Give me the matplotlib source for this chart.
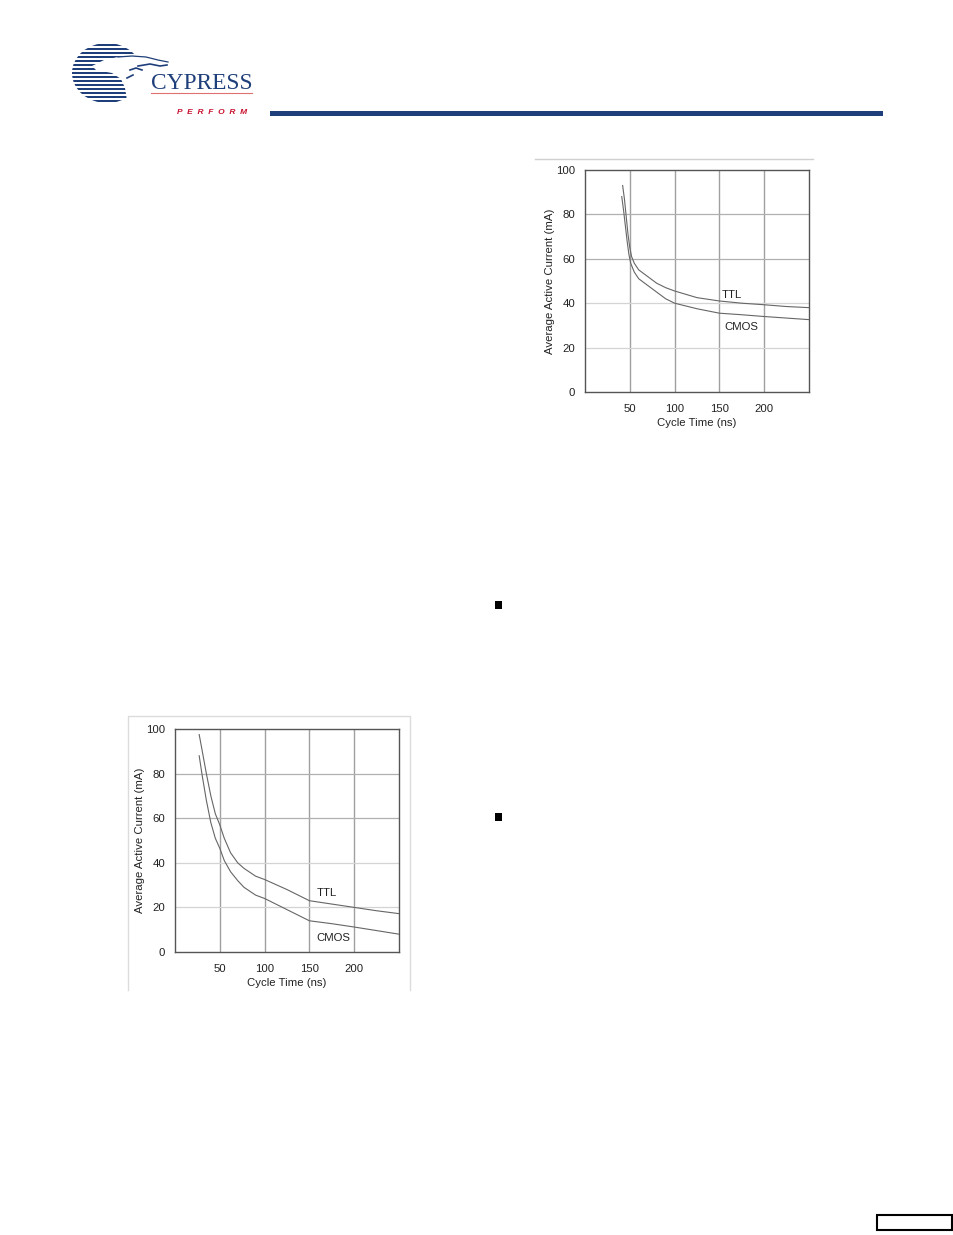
import matplotlib
matplotlib.use("Agg")
import matplotlib.pyplot as plt
from matplotlib.patches import Rectangle, Ellipse, Polygon
import numpy as np

plt.rcParams['font.family'] = ['Liberation Sans', 'DejaVu Sans']

# ---- data ----
x_ticks = [50, 100, 150, 200]
y_ticks = [0, 20, 40, 60, 80, 100]

top_ttl_x = [42, 44, 46, 48, 50, 52, 55, 60, 70, 80, 90, 100, 125, 150, 175, 200, 225, 250]
top_ttl_y = [93, 87, 79, 71, 65, 61, 58, 55, 52, 49, 47, 45.5, 42.5, 41, 40, 39.3, 38.5, 38]
top_cmos_x = [41, 43, 45, 47, 49, 51, 55, 60, 70, 80, 90, 100, 125, 150, 175, 200, 225, 250]
top_cmos_y = [88, 82, 75, 68, 62, 58, 54, 51, 48, 45, 42, 40, 37.5, 35.5, 34.8, 34, 33.3, 32.6]

bot_ttl_x = [27, 30, 35, 40, 45, 50, 55, 62, 70, 77, 90, 100, 125, 150, 175, 200, 225, 250]
bot_ttl_y = [97.5, 91, 80, 70, 62, 57, 51, 44.5, 40, 37.5, 34, 32.5, 28, 23, 21.5, 20, 18.5, 17.2]
bot_cmos_x = [27, 30, 35, 40, 45, 50, 55, 62, 70, 77, 90, 100, 125, 150, 175, 200, 225, 250]
bot_cmos_y = [88, 80, 68, 58, 51, 46.5, 41, 36, 32, 29, 25.5, 24, 19, 14, 12.7, 11.2, 9.6, 8]

W, H = 954, 1235
fig = plt.figure(figsize=(W / 100, H / 100), dpi=100)
fig.patch.set_facecolor('white')


def px_axes(left, top, right, bottom, **kw):
    return fig.add_axes([left / W, 1 - bottom / H, (right - left) / W, (bottom - top) / H], **kw)


# page-level overlay axes in pixel coordinates
page = fig.add_axes([0, 0, 1, 1], zorder=-1)
page.set_xlim(0, W)
page.set_ylim(H, 0)
page.axis('off')

# header rule
page.add_patch(Rectangle((270, 110.7), 613, 5.3, facecolor='#1f3f7a', edgecolor='none'))
# bullets
for by in (601, 813):
    page.add_patch(Rectangle((494.7, by), 7.3, 7.5, facecolor='black', edgecolor='none'))
# bottom-right box
page.add_patch(Rectangle((877.5, 1214.5), 75, 15, facecolor='none', edgecolor='black', lw=1.5))
# chart frames
page.plot([535, 813], [159, 159], color='#d0d0d0', lw=1)
page.plot([128, 128, 410, 410], [990, 716, 716, 990], color='#dcdcdc', lw=1)

# ---- logo ----
logo = fig.add_axes([0, 0, 1, 1], zorder=5)
logo.set_xlim(0, W)
logo.set_ylim(H, 0)
logo.axis('off')
blue = '#1f3f7a'
clip = Ellipse((107, 73), 70, 60, transform=logo.transData)
stripe_y = np.arange(43.5, 104, 4.0)
for sy in stripe_y:
    r = Rectangle((70, sy), 80, 2.9, facecolor=blue, edgecolor='none')
    logo.add_patch(r)
    r.set_clip_path(clip)
# white tree silhouette cut-out
tree = Polygon([(92, 66), (104, 60), (118, 57), (132, 56), (146, 57), (160, 60), (172, 63),
                (172, 110), (129, 110), (127, 100), (125, 88), (121, 79), (112, 73), (96, 70)],
               facecolor='white', edgecolor='none')
logo.add_patch(tree)
# branches
logo.plot([118, 132, 146, 158, 168], [57, 56, 57, 60, 62], color=blue, lw=0.9)
logo.plot([138, 150, 160, 167], [66, 64, 66, 65], color=blue, lw=1.2)
logo.plot([130, 136, 142], [70, 68, 70], color=blue, lw=1.2)
logo.plot([127, 133], [78, 75], color=blue, lw=1.2)
logo.text(151, 89, 'CYPRESS', fontsize=16.8, family=['Liberation Serif'], color=blue,
          ha='left', va='baseline')
logo.plot([151, 252], [93, 93], color='#e07070', lw=0.8)
logo.text(212, 112, 'P  E  R  F  O  R  M', fontsize=6, color='#c8102e', style='italic',
          weight='bold', ha='center', va='center')


def draw_chart(ax, ttl_x, ttl_y, cmos_x, cmos_y, ttl_lab, cmos_lab):
    fs = 8.2
    ax.set_xlim(0, 250)
    ax.set_ylim(0, 100)
    for v in x_ticks:
        ax.axvline(v, color='#a0a0a0', lw=1.0, zorder=1)
    for v in [20, 40]:
        ax.axhline(v, color='#d4d4d4', lw=0.9, zorder=1)
    for v in [60, 80]:
        ax.axhline(v, color='#b0b0b0', lw=0.9, zorder=1)
    ax.plot(ttl_x, ttl_y, color='#666666', lw=0.8, zorder=3)
    ax.plot(cmos_x, cmos_y, color='#666666', lw=0.8, zorder=3)
    ax.text(ttl_lab[0], ttl_lab[1], 'TTL', fontsize=fs, ha='center', va='center', color='#222222')
    ax.text(cmos_lab[0], cmos_lab[1], 'CMOS', fontsize=fs, ha='center', va='center', color='#222222')
    ax.set_xticks(x_ticks)
    ax.set_yticks(y_ticks)
    ax.tick_params(length=0, labelsize=fs, colors='#222222')
    ax.tick_params(axis='y', pad=7)
    ax.tick_params(axis='x', pad=8.5)
    for s in ax.spines.values():
        s.set_color('#555555')
        s.set_linewidth(1.0)
    ax.set_xlabel('Cycle Time (ns)', fontsize=fs, color='#222222', labelpad=3)
    ax.set_ylabel('Average Active Current (mA)', fontsize=fs, color='#222222', labelpad=1)


ax1 = px_axes(585, 170, 809, 392)
draw_chart(ax1, top_ttl_x, top_ttl_y, top_cmos_x, top_cmos_y, (164, 43.5), (174, 29.5))

ax2 = px_axes(175, 729, 399, 952)
draw_chart(ax2, bot_ttl_x, bot_ttl_y, bot_cmos_x, bot_cmos_y, (169, 26.5), (177, 6.5))

fig.savefig('out.png', dpi=100, facecolor='white')
